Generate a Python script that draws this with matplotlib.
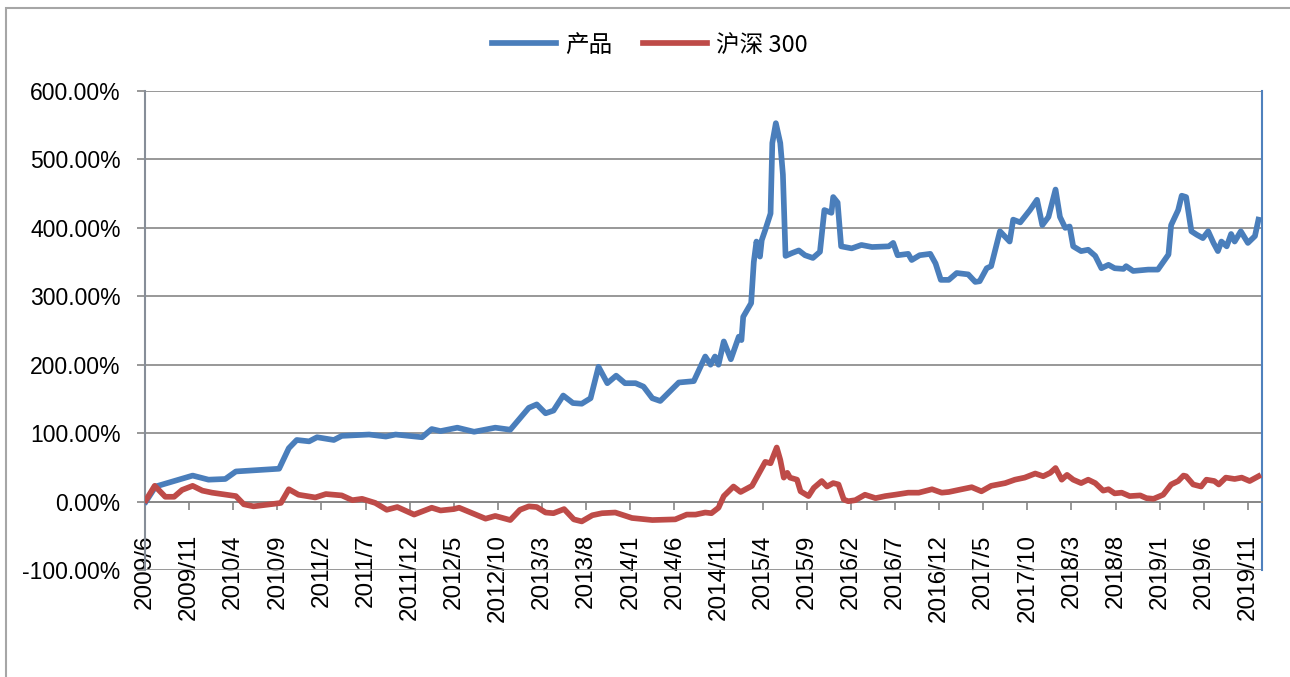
import matplotlib
matplotlib.use("Agg")
import matplotlib.pyplot as plt
import matplotlib.ticker as ticker
from matplotlib.patches import Rectangle

# months since 2009/6 and cumulative return in %
product_x = [0.1, 1.2, 5.4, 7.2, 9.1, 10.3, 15.2, 16.3, 17.2, 18.6, 19.5, 21.4, 22.3,
             25.4, 27.3, 28.4, 31.4, 32.5, 33.5, 35.4, 37.3, 39.7, 41.4, 43.5, 44.4,
             45.4, 46.3, 47.4, 48.5, 49.5, 50.5, 51.4, 52.4, 53.4, 54.4, 55.6, 56.5,
             57.5, 58.4, 60.5, 62.2, 63.5, 64.1, 64.6, 65.0, 65.6, 66.4, 67.3, 67.6,
             67.8, 68.7, 69.0, 69.3, 69.7, 69.9, 70.3, 70.9, 71.1, 71.5, 72.0, 72.3,
             72.6, 73.3, 74.1, 74.8, 75.7, 76.5, 77.0, 77.8, 78.0, 78.5, 78.9, 80.1,
             81.2, 82.4, 84.3, 84.8, 85.3, 86.5, 86.9, 87.8, 89.0, 89.6, 90.2, 91.1,
             92.0, 93.3, 94.1, 94.6, 95.4, 95.9, 96.9, 98.0, 98.4, 99.2, 100.3, 101.1,
             101.7, 102.4, 103.2, 103.7, 104.3, 104.8, 105.2, 106.1, 106.9, 107.7,
             108.4, 109.2, 109.9, 110.9, 111.2, 112.0, 113.7, 114.8, 116.0, 116.3,
             117.1, 117.5, 118.0, 118.6, 119.2, 119.9, 120.5, 121.1, 121.6, 122.0,
             122.6, 123.1, 123.5, 124.2, 125.0, 125.8, 126.2]
product_y = [0, 22, 38, 32, 33, 44, 48, 78, 90, 88, 94, 90, 96,
             98, 95, 98, 94, 106, 103, 108, 102, 108, 105, 137, 142,
             129, 133, 155, 144, 143, 151, 197, 173, 184, 173, 173, 168,
             151, 147, 174, 176, 212, 200, 212, 200, 234, 208, 241, 236,
             270, 290, 350, 380, 358, 382, 397, 421, 524, 553, 524, 478,
             359, 363, 367, 360, 356, 365, 426, 422, 445, 437, 373, 370,
             375, 372, 373, 378, 360, 362, 353, 360, 362, 348, 324, 324,
             334, 332, 321, 322, 341, 344, 395, 380, 412, 408, 426, 441,
             404, 416, 456, 416, 400, 402, 373, 366, 368, 359,
             341, 346, 341, 340, 344, 337, 339, 339, 361, 404,
             426, 447, 445, 395, 390, 385, 395, 378, 366, 380,
             373, 391, 380, 395, 378, 388, 412]

hs300_x = [0.1, 1.1, 2.3, 3.3, 4.2, 5.4, 6.5, 7.6, 10.3, 11.2, 12.3, 14.8, 15.4,
           16.3, 17.4, 19.3, 20.5, 22.3, 23.5, 24.6, 26.1, 27.4, 28.6, 30.5, 32.5,
           33.5, 35.0, 35.6, 37.1, 38.6, 39.7, 41.4, 42.5, 43.5, 44.4, 45.4, 46.3,
           47.5, 48.6, 49.5, 50.7, 51.8, 53.3, 55.2, 57.5, 60.1, 61.4, 62.4, 63.5,
           64.2, 65.0, 65.6, 66.7, 67.5, 68.8, 69.7, 70.3, 70.9, 71.2, 71.6, 72.0,
           72.4, 72.8, 73.1, 73.9, 74.3, 75.2, 75.8, 76.7, 77.3, 78.0, 78.6, 79.2,
           79.7, 80.5, 81.6, 82.8, 83.9, 85.0, 86.5, 87.7, 89.2, 90.3, 91.1, 92.2,
           93.7, 94.8, 95.9, 97.5, 98.6, 99.7, 100.9, 101.8, 102.6, 103.2, 103.9,
           104.5, 105.2, 106.1, 106.9, 107.7, 108.6, 109.2, 109.9, 110.7, 111.6,
           112.8, 113.5, 114.3, 115.4, 116.3, 117.1, 117.7, 118.0, 118.8, 119.7,
           120.3, 121.2, 121.7, 122.5, 123.5, 124.3, 125.2, 126.2]
hs300_y = [2, 23, 7, 7, 17, 23, 16, 13, 8, -4, -7, -3, -2,
           18, 10, 6, 11, 9, 2, 4, -2, -12, -8, -19, -9,
           -13, -11, -9, -17, -25, -21, -27, -12, -7, -8, -16, -17,
           -11, -26, -29, -20, -17, -16, -24, -27, -26, -19, -19, -16,
           -17, -9, 8, 22, 14, 23, 44, 58, 56, 66, 79, 61,
           35, 42, 35, 32, 15, 8, 20, 30, 22, 27, 25, 3,
           0.5, 2, 10, 5, 8, 10, 13, 13, 18, 13, 14, 17,
           21, 15, 23, 27, 32, 35, 41, 37, 42, 49, 32,
           39, 32, 27, 32, 27, 16, 18, 12, 13, 8,
           9, 5, 4, 10, 25, 30, 38, 37, 25, 22,
           32, 30, 25, 35, 33, 35, 30, 37]

tick_months = list(range(0, 126, 5))
tick_labels = ['2009/6', '2009/11', '2010/4', '2010/9', '2011/2', '2011/7', '2011/12',
               '2012/5', '2012/10', '2013/3', '2013/8', '2014/1', '2014/6', '2014/11',
               '2015/4', '2015/9', '2016/2', '2016/7', '2016/12', '2017/5', '2017/10',
               '2018/3', '2018/8', '2019/1', '2019/6', '2019/11']
series_names = ['产品', '沪深 300']

plt.rcParams['font.family'] = ['Liberation Sans', 'Noto Sans CJK SC', 'DejaVu Sans']

W, H = 1290, 677
fig = plt.figure(figsize=(W / 100, H / 100), dpi=100)

# outer chart border (only left and top visible in the picture)
fig.patches.append(Rectangle((6 / W, -0.05), 1.2, 1.05 - 8 / H, transform=fig.transFigure,
                             fill=False, edgecolor='#A6A6A6', linewidth=1.5))

left, right, top, bottom = 145, 1262, 91, 570
ax = fig.add_axes([left / W, 1 - bottom / H, (right - left) / W, (bottom - top) / H])

ax.plot(product_x, product_y, color='#4A7EBB', linewidth=4.1,
        solid_joinstyle='round', label=series_names[0], zorder=3)
ax.plot(hs300_x, hs300_y, color='#BE4B48', linewidth=4.1,
        solid_joinstyle='round', label=series_names[1], zorder=3)

ax.set_xlim(0, 126.6)
ax.set_ylim(-100, 600)
ax.yaxis.set_major_locator(ticker.MultipleLocator(100))
ax.yaxis.set_major_formatter(ticker.FuncFormatter(lambda v, p: f'{v:.2f}%'))
ax.grid(axis='y', color='#868686', linewidth=1.2)
ax.set_axisbelow(True)

ax.xaxis.set_major_locator(ticker.FixedLocator(tick_months))
ax.xaxis.set_major_formatter(ticker.FixedFormatter(tick_labels))

ax.spines['bottom'].set_position(('data', 0))
ax.spines['bottom'].set_color('#868686')
ax.spines['bottom'].set_linewidth(1.2)
ax.spines['left'].set_color('#878E98')
ax.spines['left'].set_linewidth(1.5)
ax.spines['top'].set_visible(False)
ax.spines['right'].set_color('#4F81BD')
ax.spines['right'].set_linewidth(1.5)

ax.tick_params(axis='x', direction='out', length=5.5, width=1.2, color='#868686',
               pad=18, labelsize=17.5, labelrotation=90)
ax.tick_params(axis='y', direction='out', length=5.5, width=1.2, color='#868686',
               pad=12, labelsize=16.5)

leg = fig.legend(loc='center', bbox_to_anchor=(650 / W, 1 - 45 / H), ncol=2,
                 frameon=False, handlelength=2.7, columnspacing=1.3, handletextpad=0.4,
                 prop={'family': ['Noto Sans CJK SC', 'DejaVu Sans'], 'size': 17})

fig.savefig('out.png', dpi=100)
